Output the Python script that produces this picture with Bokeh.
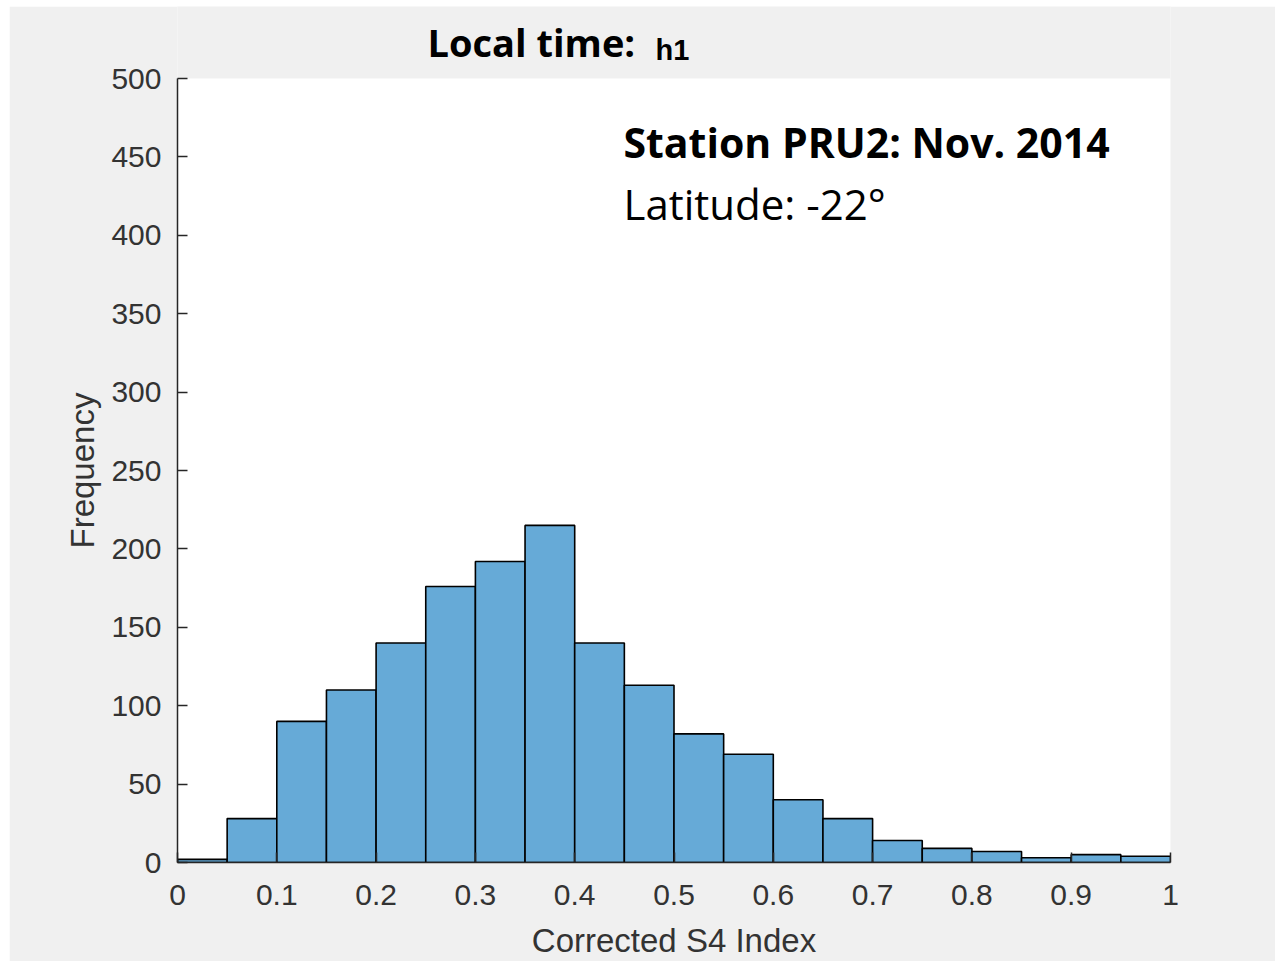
from bokeh.plotting import figure
from bokeh.models import ColumnDataSource, Label, FixedTicker, Range1d, BoxAnnotation, Title
from bokeh.embed import file_html
from bokeh.resources import INLINE

# ---- data ----
bin_left = [0.00, 0.05, 0.10, 0.15, 0.20, 0.25, 0.30, 0.35, 0.40, 0.45,
            0.50, 0.55, 0.60, 0.65, 0.70, 0.75, 0.80, 0.85, 0.90, 0.95]
bin_right = [0.05, 0.10, 0.15, 0.20, 0.25, 0.30, 0.35, 0.40, 0.45, 0.50,
             0.55, 0.60, 0.65, 0.70, 0.75, 0.80, 0.85, 0.90, 0.95, 1.00]
counts = [2, 28, 90, 110, 140, 176, 192, 215, 140, 113,
          82, 69, 40, 28, 14, 9, 7, 3, 5, 4]
x_ticks = [0, 0.1, 0.2, 0.3, 0.4, 0.5, 0.6, 0.7, 0.8, 0.9, 1.0]
x_tick_labels = ["0", "0.1", "0.2", "0.3", "0.4", "0.5", "0.6", "0.7", "0.8", "0.9", "1"]
y_ticks = [0, 50, 100, 150, 200, 250, 300, 350, 400, 450, 500]
title_main = "Local time:"
title_sub = "h1"
station_text = "Station PRU2: Nov. 2014"
latitude_text = "Latitude: -22°"
x_label = "Corrected S4 Index"
y_label = "Frequency"

x_min, x_max = x_ticks[0], x_ticks[-1]
y_min, y_max = y_ticks[0], y_ticks[-1]
px_per_unit = 784 / (y_max - y_min)        # axes box is 784 px tall
top_space = 72 / px_per_unit               # room above the axes box for the title

src = ColumnDataSource(dict(left=bin_left, right=bin_right, top=counts,
                            bottom=[0] * len(counts)))

p = figure(output_backend="svg", toolbar_location=None,
           frame_width=993, frame_height=856,
           min_border_left=168, min_border_right=105,
           min_border_top=0, min_border_bottom=99,
           margin=(6, 0, 0, 9),
           x_range=Range1d(x_min, x_max), y_range=Range1d(y_min, y_max + top_space),
           background_fill_color="#f0f0f0", border_fill_color="#f0f0f0",
           outline_line_color=None)

# white axes box (MATLAB style), only up to the top of the y range
p.add_layout(BoxAnnotation(left=x_min, right=x_max, bottom=y_min, top=y_max,
                           fill_color="white", fill_alpha=1.0, line_color=None,
                           level="underlay"))

p.quad(left="left", right="right", top="top", bottom="bottom", source=src,
       fill_color="#66aad7", line_color="black", line_width=1.6)

p.xgrid.visible = False
p.ygrid.visible = False

for ax in (p.xaxis[0], p.yaxis[0]):
    ax.axis_line_color = "#262626"
    ax.axis_line_width = 1.5
    ax.major_tick_line_color = "#262626"
    ax.major_tick_line_width = 1.5
    ax.major_tick_in = 10
    ax.major_tick_out = 0
    ax.minor_tick_line_color = None
    ax.major_label_text_font = "Liberation Sans"
    ax.major_label_text_font_size = "30px"
    ax.major_label_text_color = "#333333"
    ax.axis_label_text_font = "Liberation Sans"
    ax.axis_label_text_font_size = "33px"
    ax.axis_label_text_font_style = "normal"
    ax.axis_label_text_color = "#333333"

p.xaxis.ticker = FixedTicker(ticks=x_ticks)
p.xaxis.major_label_overrides = {t: l for t, l in zip(x_ticks, x_tick_labels)}
p.xaxis.major_label_standoff = 22
p.xaxis.axis_label = x_label
p.xaxis.axis_label_standoff = 14

p.yaxis.ticker = FixedTicker(ticks=y_ticks)
p.yaxis.bounds = (y_min, y_max)
p.yaxis.major_label_standoff = 16

# y-axis label as a left-side title, centred on the white axes box
p.add_layout(Title(text=y_label, align="left", offset=314, standoff=15,
                   text_font="Liberation Sans", text_font_style="normal",
                   text_font_size="33px", text_color="#333333"), "left")

# title (above the axes box)
p.add_layout(Label(x=0.2518, y=523, text=title_main, text_font="Open Sans",
                   text_font_style="bold", text_font_size="38px", text_color="black",
                   text_baseline="alphabetic"))
p.add_layout(Label(x=0.4814, y=518, text=title_sub, text_font="Liberation Sans",
                   text_font_style="bold", text_font_size="29px", text_color="black",
                   text_baseline="alphabetic"))

# annotation text inside the axes
p.add_layout(Label(x=0.4491, y=459.5, text=station_text, text_font="Open Sans",
                   text_font_style="bold", text_font_size="41px", text_color="black",
                   text_baseline="alphabetic"))
p.add_layout(Label(x=0.4491, y=420.5, text=latitude_text, text_font="Open Sans",
                   text_font_style="normal", text_font_size="42px", text_color="black",
                   text_baseline="alphabetic"))

open("out.html", "w").write(file_html(p, INLINE))
